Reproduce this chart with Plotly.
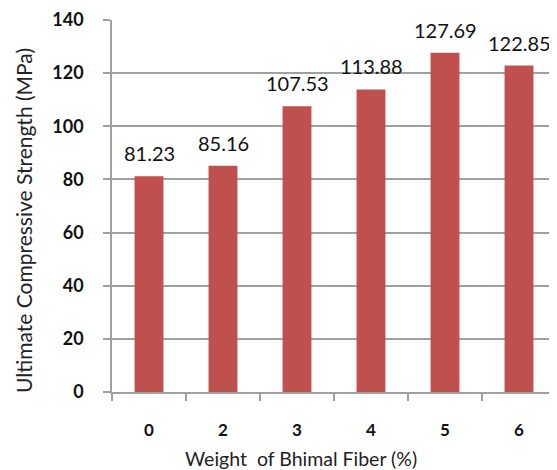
import plotly.graph_objects as go

categories = ["0", "2", "3", "4", "5", "6"]
values = [81.23, 85.16, 107.53, 113.88, 127.69, 122.85]
value_labels = ["81.23", "85.16", "107.53", "113.88", "127.69", "122.85"]
y_ticks = [0, 20, 40, 60, 80, 100, 120, 140]

FONT = "Lato"
BAR = "#C0504D"
GRID = "#A0A0A0"

fig = go.Figure()
fig.add_trace(go.Bar(
    x=categories, y=values,
    marker=dict(color=BAR, line=dict(width=0)),
    width=0.39,
    hoverinfo="skip",
))

annotations = []
for i, (v, t) in enumerate(zip(values, value_labels)):
    annotations.append(dict(
        x=i, y=v, xref="x", yref="y", text=t, showarrow=False,
        yanchor="bottom", yshift=9,
        font=dict(family=FONT, size=20, color="#111111"),
    ))

annotations.append(dict(
    text="Weight  of Bhimal Fiber (%)", xref="paper", yref="paper",
    x=0.4257, y=-0.1775, xanchor="center", yanchor="middle", showarrow=False,
    font=dict(family=FONT, size=19.5, color="#222222"),
))
annotations.append(dict(
    text="Ultimate Compressive Strength (MPa)", xref="paper", yref="paper",
    x=-0.198, y=0.46, xanchor="center", yanchor="middle", showarrow=False,
    textangle=-90,
    font=dict(family=FONT, size=21, color="#222222"),
))

# the page body has an 8px margin, so the figure is drawn 8px smaller
fig.update_layout(
    width=549, height=462,
    margin=dict(l=104, r=1, t=12, b=78, autoexpand=False),
    paper_bgcolor="white", plot_bgcolor="white",
    showlegend=False,
    annotations=annotations,
    xaxis=dict(
        type="category", categoryorder="array", categoryarray=categories,
        range=[-0.5, 5.5], automargin=False,
        showline=True, linecolor=GRID, linewidth=1.5,
        ticks="outside", tickson="boundaries", ticklen=7, tickcolor=GRID, tickwidth=1.5,
        showgrid=False, zeroline=False,
        ticklabelstandoff=22, ticklabeloverflow="allow",
        tickfont=dict(family=FONT, size=17, color="#111111", weight="bold"),
    ),
    yaxis=dict(
        range=[0, 140.01], tickvals=y_ticks, automargin=False,
        showline=True, linecolor=GRID, linewidth=1.5,
        ticks="outside", ticklen=7, tickcolor=GRID, tickwidth=1.5,
        showgrid=True, gridcolor=GRID, gridwidth=1.5,
        zeroline=False,
        ticklabelstandoff=16, ticklabeloverflow="allow",
        tickfont=dict(family=FONT, size=18, color="#111111", weight="bold"),
    ),
)

fig.write_html("out.html")
